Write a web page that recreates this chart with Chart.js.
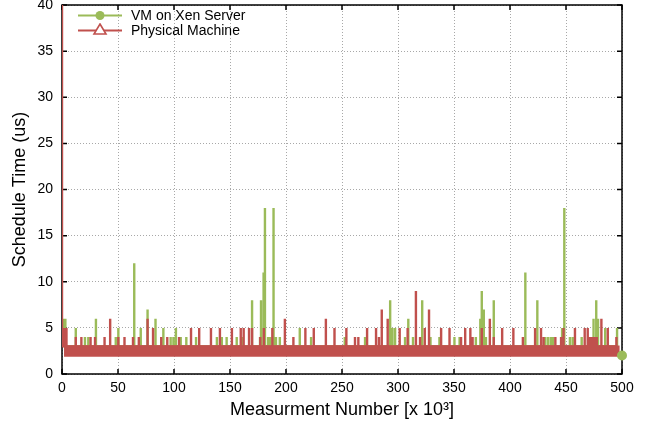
<!DOCTYPE html>
<html>
<head>
<meta charset="utf-8">
<script src="https://cdn.jsdelivr.net/npm/chart.js@4.4.1/dist/chart.umd.min.js"></script>
<style>
  body { margin: 0; background: #fff; }
  #wrap { position: relative; width: 646px; height: 427px; }
  #legend { position: absolute; left: 76px; top: 8px; font: 14px "Liberation Sans", Arial, sans-serif; color: #000; }
  #legend .row { height: 15px; line-height: 15px; white-space: nowrap; }
  #legend svg { vertical-align: top; margin-right: 7px; }
</style>
</head>
<body>
<div id="wrap">
  <canvas id="chart" width="646" height="427"></canvas>
  <div id="legend">
    <div class="row"><svg width="48" height="15"><line x1="2" y1="7.5" x2="46" y2="7.5" stroke="#9bbb59" stroke-width="2"/><circle cx="24" cy="7.5" r="4.5" fill="#9bbb59"/></svg>VM on Xen Server</div>
    <div class="row"><svg width="48" height="15"><line x1="2" y1="7.5" x2="46" y2="7.5" stroke="#c0504d" stroke-width="2"/><polygon points="24,1 30,11 18,11" fill="#fff" stroke="#c0504d" stroke-width="1.6"/></svg>Physical Machine</div>
  </div>
</div>
<script>
// AXES
const xTicks = [0, 50, 100, 150, 200, 250, 300, 350, 400, 450, 500];
const yTicks = [0, 5, 10, 15, 20, 25, 30, 35, 40];

// level the spikes rise from (top of the dense band)
const baseLevel = 3;

// VM on Xen Server: spike positions [x 10^3] and heights (us)
const greenSpikeX = [1.5, 3, 12.3, 20.5, 23.5, 30.3, 48, 50.3, 64.5, 70.3, 76.4, 83.5, 90.5, 97, 99.5,
  101.7, 106, 111, 119.7, 138.3, 142.7, 147, 156, 160.7, 169.7, 176.8, 177.7, 180, 181.2, 184,
  186, 188.4, 189.2, 191, 194.5, 212.3, 222.4, 252.5, 270.6, 293, 295, 297.4, 306.3, 309.2, 313.4,
  321.6, 329, 337, 350.4, 355, 369.5, 373.5, 374.8, 376.6, 378.5, 385.5, 413.7, 424.4, 431.5, 434,
  436.5, 438.5, 446.5, 448.5, 453.5, 456, 464, 474.6, 477, 478.6, 485, 495.6];
const greenSpikeY = [6, 6, 5, 4, 4, 6, 4, 5, 12, 5, 7, 6, 5, 4, 4,
  5, 4, 4, 4, 4, 4, 4, 4, 4, 8, 4, 8, 11, 18, 4,
  4, 18, 8, 4, 4, 5, 4, 4, 4, 8, 5, 5, 4, 6, 4,
  8, 4, 4, 4, 4, 4, 6, 9, 7, 4, 8, 11, 8, 4, 4,
  4, 4, 5, 18, 4, 4, 4, 6, 8, 6, 5, 5];
const greenEnd = [500, 2];

// Physical Machine: spike positions and heights
const redSpikeX = [0, 1, 2.5, 4, 12.3, 17.3, 25.5, 29.5, 38, 43, 50.3, 55.8, 63.4, 68.6, 76.4,
  81.3, 88.6, 94, 104.5, 115.2, 122.5, 133, 141, 151.7, 159.6, 162.2, 167, 169.7, 177, 180.2,
  187.8, 199, 206.6, 217.3, 224.8, 235.6, 243.3, 253.9, 261.6, 264.6, 272.4, 280.4, 283, 285.5, 290.8,
  301.5, 308.6, 316, 319.7, 323.9, 327.7, 338.5, 346, 356.3, 360, 364.6, 366.6, 374.8, 382, 385.5,
  393, 403, 411.5, 422.4, 427.7, 430, 440.5, 445.6, 447.8, 458, 466.7, 469.4, 471.5, 473.5, 475.5,
  477.5, 481.6, 487.3, 495];
const redSpikeY = [40, 5, 5, 5, 4, 4, 4, 4, 4, 6, 4, 4, 4, 4, 6,
  5, 4, 4, 4, 5, 5, 5, 5, 5, 5, 5, 5, 5, 4, 5,
  5, 6, 4, 5, 5, 6, 5, 5, 4, 4, 5, 5, 4, 7, 6,
  5, 5, 9, 4, 5, 7, 5, 5, 4, 5, 5, 4, 5, 6, 4,
  5, 5, 4, 5, 5, 4, 4, 4, 5, 5, 5, 5, 4, 4, 4,
  4, 6, 5, 4];

// dense 2..3 us band of the physical machine
const bandX = [1.8, 498];
const bandTop = [3.1, 3.1];
const bandBottom = 1.87;

const GREEN = "#9bbb59";
const RED = "#c0504d";

function spikes(xs, ys) {
  const pts = [];
  xs.forEach((x, i) => {
    pts.push({ x: x, y: baseLevel }, { x: x, y: ys[i] }, { x: x, y: baseLevel });
  });
  return pts;
}

// border + inner tick marks like gnuplot
const frame = {
  id: "frame",
  beforeDatasetsDraw(chart) {
    const { ctx, chartArea: a, scales } = chart;
    ctx.save();
    ctx.strokeStyle = "#000";
    ctx.lineWidth = 1.5;
    ctx.strokeRect(a.left, a.top, a.right - a.left, a.bottom - a.top);
    ctx.beginPath();
    xTicks.forEach((v) => {
      const px = scales.x.getPixelForValue(v);
      ctx.moveTo(px, a.bottom); ctx.lineTo(px, a.bottom - 5);
      ctx.moveTo(px, a.top); ctx.lineTo(px, a.top + 5);
    });
    yTicks.forEach((v) => {
      const py = scales.y.getPixelForValue(v);
      ctx.moveTo(a.left, py); ctx.lineTo(a.left + 5, py);
      ctx.moveTo(a.right, py); ctx.lineTo(a.right - 5, py);
    });
    ctx.stroke();
    ctx.restore();
  },
};

Chart.defaults.font.family = '"Liberation Sans", Arial, sans-serif';
Chart.defaults.color = "#000";

new Chart(document.getElementById("chart"), {
  type: "line",
  data: {
    datasets: [
      {
        label: "VM on Xen Server",
        data: spikes(greenSpikeX, greenSpikeY),
        borderColor: GREEN,
        borderWidth: 2.4,
        pointRadius: 0,
        order: 4,
      },
      {
        label: "band",
        data: bandX.map((x, i) => ({ x: x, y: bandTop[i] })),
        borderWidth: 0,
        borderColor: RED,
        backgroundColor: RED,
        fill: { value: bandBottom },
        pointRadius: 0,
        order: 3,
      },
      {
        label: "Physical Machine",
        data: spikes(redSpikeX, redSpikeY),
        borderColor: RED,
        borderWidth: 2.4,
        pointRadius: 0,
        order: 2,
      },
      {
        label: "end",
        data: [{ x: greenEnd[0], y: greenEnd[1] }],
        pointRadius: 5,
        pointBackgroundColor: GREEN,
        pointBorderWidth: 0,
        showLine: false,
        clip: false,
        order: 1,
      },
    ],
  },
  options: {
    responsive: false,
    animation: false,
    devicePixelRatio: 1,
    layout: { padding: { top: 4, right: 24, left: 0, bottom: 0 } },
    elements: { line: { tension: 0, borderJoinStyle: "bevel" } },
    plugins: { legend: { display: false }, tooltip: { enabled: false } },
    scales: {
      x: {
        type: "linear",
        min: 0,
        max: 500,
        afterBuildTicks: (s) => { s.ticks = xTicks.map((v) => ({ value: v })); },
        afterFit: (s) => { s.height = 53; s.paddingLeft = 0; s.paddingRight = 0; },
        ticks: { font: { size: 14 }, padding: 6, maxRotation: 0 },
        grid: { color: "#a8a8a8", lineWidth: 1, drawTicks: false },
        border: { display: false, dash: [1, 2] },
        title: {
          display: true,
          text: "Measurment Number [x 10\u00b3]",
          font: { size: 18 },
          padding: { top: 0, bottom: 6 },
        },
      },
      y: {
        min: 0,
        max: 40,
        afterBuildTicks: (s) => { s.ticks = yTicks.map((v) => ({ value: v })); },
        afterFit: (s) => { s.width = 62; s.paddingTop = 0; s.paddingBottom = 0; },
        ticks: { font: { size: 14 }, padding: 9 },
        grid: { color: "#a8a8a8", lineWidth: 1, drawTicks: false },
        border: { display: false, dash: [1, 2] },
        title: {
          display: true,
          text: "Schedule Time (us)",
          font: { size: 18 },
          padding: { top: 9, bottom: 0 },
        },
      },
    },
  },
  plugins: [frame],
});
</script>
</body>
</html>
